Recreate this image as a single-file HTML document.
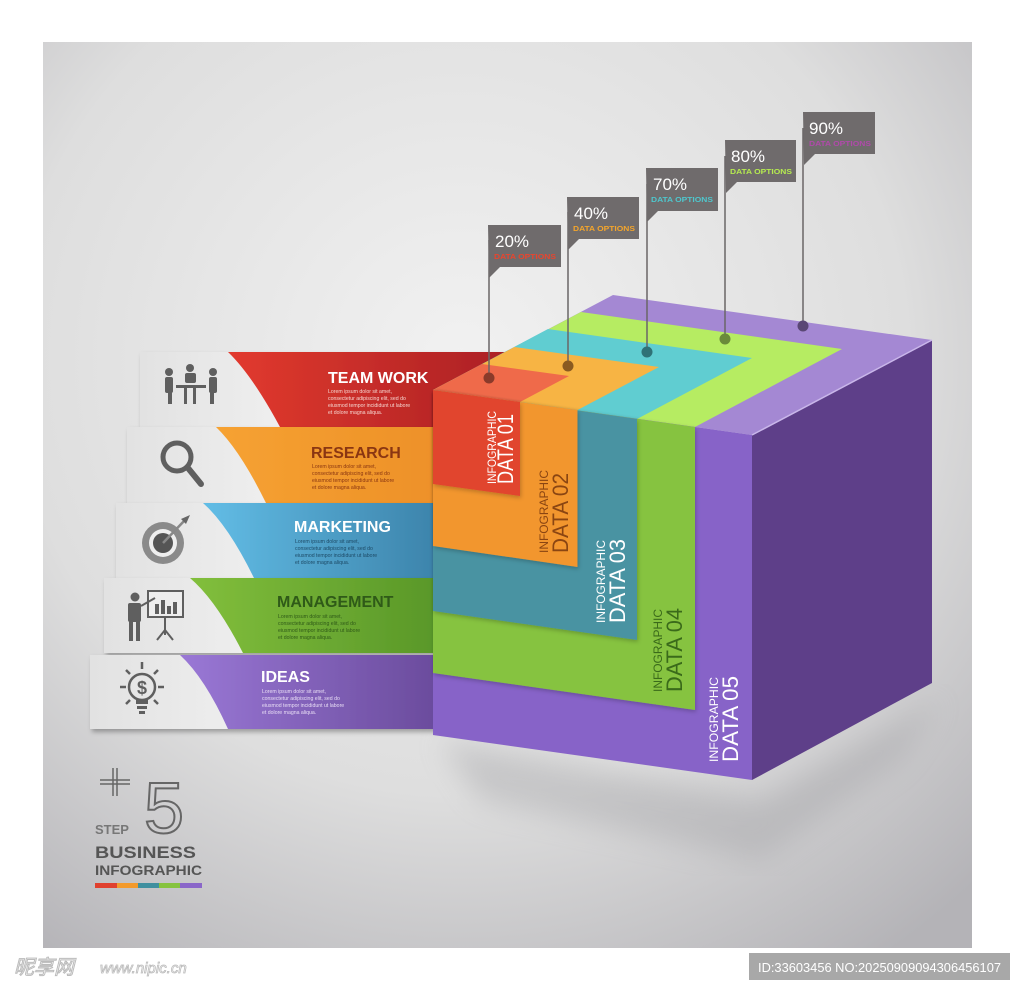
<!DOCTYPE html>
<html><head><meta charset="utf-8"><style>
html,body{margin:0;padding:0;background:#fff;width:1024px;height:992px;overflow:hidden}
svg{display:block}
text{font-family:"Liberation Sans",sans-serif}
</style></head><body>
<svg width="1024" height="992" viewBox="0 0 1024 992">
<defs>
<radialGradient id="bg" cx="0.45" cy="0.35" r="0.8">
<stop offset="0" stop-color="#f1f1f1"/><stop offset="0.6" stop-color="#dedede"/><stop offset="1" stop-color="#b4b3b7"/>
</radialGradient>
<linearGradient id="wb" x1="0" x2="1"><stop offset="0" stop-color="#e2e2e2"/><stop offset="0.6" stop-color="#f7f7f7"/><stop offset="1" stop-color="#ececec"/></linearGradient>
<linearGradient id="g1" x1="0" x2="1"><stop offset="0" stop-color="#e23a2e"/><stop offset="1" stop-color="#a91f24"/></linearGradient>
<linearGradient id="g2" x1="0" x2="1"><stop offset="0" stop-color="#f6a232"/><stop offset="1" stop-color="#ea8a25"/></linearGradient>
<linearGradient id="g3" x1="0" x2="1"><stop offset="0" stop-color="#62bde6"/><stop offset="1" stop-color="#2f6f96"/></linearGradient>
<linearGradient id="g4" x1="0" x2="1"><stop offset="0" stop-color="#82bf3c"/><stop offset="1" stop-color="#4b8a22"/></linearGradient>
<linearGradient id="g5" x1="0" x2="1"><stop offset="0" stop-color="#9a78d6"/><stop offset="1" stop-color="#5b3d8a"/></linearGradient>
<filter id="sh" x="-20%" y="-20%" width="140%" height="140%"><feDropShadow dx="2" dy="3" stdDeviation="2.5" flood-color="#000" flood-opacity="0.3"/></filter>
<filter id="sh2" x="-20%" y="-20%" width="140%" height="140%"><feDropShadow dx="1" dy="2" stdDeviation="2" flood-color="#000" flood-opacity="0.22"/></filter>
<filter id="bl"><feGaussianBlur stdDeviation="14"/></filter>
</defs>
<rect x="43" y="42" width="929" height="906" fill="url(#bg)"/>
<polygon points="440,740 760,800 940,700 900,760 760,860 480,800" fill="#9a9a9e" opacity="0.35" filter="url(#bl)"/>

<g filter="url(#sh)">
<rect x="140" y="352" width="380" height="75" fill="url(#wb)"/>
<path d="M228,352 L520,352 L520,427 L280,427 Q252,375 228,352Z" fill="url(#g1)"/>
</g>
<g filter="url(#sh)">
<rect x="127" y="427" width="393" height="76" fill="url(#wb)"/>
<path d="M216,427 L520,427 L520,503 L266,503 Q240,450 216,427Z" fill="url(#g2)"/>
</g>
<g filter="url(#sh)">
<rect x="116" y="503" width="404" height="75" fill="url(#wb)"/>
<path d="M203,503 L520,503 L520,578 L254,578 Q228,525 203,503Z" fill="url(#g3)"/>
</g>
<g filter="url(#sh)">
<rect x="104" y="578" width="416" height="75" fill="url(#wb)"/>
<path d="M190,578 L520,578 L520,653 L243,653 Q216,600 190,578Z" fill="url(#g4)"/>
</g>
<g filter="url(#sh)">
<rect x="90" y="655" width="430" height="74" fill="url(#wb)"/>
<path d="M180,655 L520,655 L520,729 L228,729 Q205,678 180,655Z" fill="url(#g5)"/>
</g>

<g font-weight="bold" font-size="16">
<text x="328" y="383" fill="#fff">TEAM WORK</text>
<text x="311" y="458" fill="#8a3612">RESEARCH</text>
<text x="294" y="532" fill="#fff">MARKETING</text>
<text x="277" y="607" fill="#2f5a18">MANAGEMENT</text>
<text x="261" y="682" fill="#fff">IDEAS</text>
</g>
<g font-size="5.2">
<g fill="#f6d6d0"><text x="328" y="393">Lorem ipsum dolor sit amet,</text><text x="328" y="400">consectetur adipiscing elit, sed do</text><text x="328" y="407">eiusmod tempor incididunt ut labore</text><text x="328" y="414">et dolore magna aliqua.</text></g>
<g fill="#8a3612"><text x="312" y="468">Lorem ipsum dolor sit amet,</text><text x="312" y="475">consectetur adipiscing elit, sed do</text><text x="312" y="482">eiusmod tempor incididunt ut labore</text><text x="312" y="489">et dolore magna aliqua.</text></g>
<g fill="#1d4a66"><text x="295" y="543">Lorem ipsum dolor sit amet,</text><text x="295" y="550">consectetur adipiscing elit, sed do</text><text x="295" y="557">eiusmod tempor incididunt ut labore</text><text x="295" y="564">et dolore magna aliqua.</text></g>
<g fill="#2f5a18"><text x="278" y="618">Lorem ipsum dolor sit amet,</text><text x="278" y="625">consectetur adipiscing elit, sed do</text><text x="278" y="632">eiusmod tempor incididunt ut labore</text><text x="278" y="639">et dolore magna aliqua.</text></g>
<g fill="#e8ddf5"><text x="262" y="693">Lorem ipsum dolor sit amet,</text><text x="262" y="700">consectetur adipiscing elit, sed do</text><text x="262" y="707">eiusmod tempor incididunt ut labore</text><text x="262" y="714">et dolore magna aliqua.</text></g>
</g>

<g fill="#5f5f5f" stroke="none">
<circle cx="169" cy="372" r="4"/><rect x="165" y="377" width="8" height="16" rx="2"/><rect x="168" y="392" width="4" height="12"/>
<circle cx="190" cy="368" r="4"/><rect x="185" y="373" width="11" height="10" rx="2"/>
<circle cx="213" cy="372" r="4"/><rect x="209" y="377" width="8" height="16" rx="2"/><rect x="210" y="392" width="4" height="12"/>
<rect x="176" y="385" width="30" height="3"/><rect x="184" y="388" width="3" height="16"/><rect x="193" y="388" width="3" height="16"/>
<circle cx="177" cy="457" r="14" fill="none" stroke="#5f5f5f" stroke-width="5"/>
<line x1="188" y1="468" x2="201" y2="484" stroke="#5f5f5f" stroke-width="6" stroke-linecap="round"/>
<circle cx="163" cy="543" r="21" fill="#8a8a8a"/><circle cx="163" cy="543" r="14" fill="#eee"/><circle cx="163" cy="543" r="10" fill="#555"/>
<line x1="163" y1="543" x2="185" y2="520" stroke="#888" stroke-width="2.5"/><polygon points="181,519 190,515 186,524" fill="#666"/>
<circle cx="135" cy="597" r="4.5"/><rect x="128" y="603" width="13" height="19" rx="2"/><rect x="129" y="621" width="4" height="20"/><rect x="136" y="621" width="4" height="20"/>
<rect x="148" y="591" width="35" height="26" fill="#eee" stroke="#5f5f5f" stroke-width="2"/>
<rect x="155" y="604" width="4" height="10"/><rect x="161" y="600" width="4" height="14"/><rect x="167" y="606" width="4" height="8"/><rect x="173" y="602" width="4" height="12"/>
<line x1="165" y1="617" x2="165" y2="635" stroke="#5f5f5f" stroke-width="2"/><line x1="165" y1="630" x2="157" y2="640" stroke="#5f5f5f" stroke-width="2"/><line x1="165" y1="630" x2="173" y2="640" stroke="#5f5f5f" stroke-width="2"/>
<line x1="141" y1="606" x2="155" y2="598" stroke="#5f5f5f" stroke-width="2"/>
<circle cx="142" cy="687" r="13" fill="none" stroke="#5f5f5f" stroke-width="2.5"/>
<rect x="136" y="700" width="12" height="4"/><rect x="137" y="706" width="10" height="3"/><rect x="139" y="711" width="6" height="3"/>
<text x="142" y="694" font-size="18" font-weight="bold" fill="#5f5f5f" text-anchor="middle">$</text>
<g stroke="#5f5f5f" stroke-width="2.5"><line x1="142" y1="662" x2="142" y2="669"/><line x1="120" y1="687" x2="126" y2="687"/><line x1="158" y1="687" x2="164" y2="687"/><line x1="126" y1="670" x2="130" y2="674"/><line x1="158" y1="670" x2="154" y2="674"/><line x1="126" y1="704" x2="130" y2="700"/><line x1="158" y1="704" x2="154" y2="700"/></g>
</g>

<polygon points="752,435 932,340 932,683 752,780" fill="#5e3f89"/>
<polygon points="433,390 752,435 932,340 613,295" fill="#a488d3"/>
<polygon points="433,390 695,427 842,349 581,312" fill="#b6ec62"/>
<polygon points="433,390 637,419 752,358 548,329" fill="#60cdd1"/>
<polygon points="433,390 577.5,410 659,367 514.5,347" fill="#f7b444"/>
<polygon points="433,390 520,402 569,376 482,364" fill="#ef6a4a"/>
<polygon points="433,390 752,435 752,780 433,735" fill="#8763c8"/>
<g filter="url(#sh2)"><polygon points="433,390 695,427 695,710 433,673" fill="#86c33f"/></g>
<g filter="url(#sh2)"><polygon points="433,390 637,419 637,640 433,611" fill="#4893a2"/></g>
<g filter="url(#sh2)"><polygon points="433,390 577.5,410 577.5,567 433,546" fill="#f2962e"/></g>
<g filter="url(#sh2)"><polygon points="433,390 520,402 520,496 433,484" fill="#e1452f"/></g>
<line x1="752" y1="435" x2="932" y2="340" stroke="#c9b6ea" stroke-width="1.5"/>

<g>
<text transform="translate(496,484) rotate(-90)" font-size="12" fill="#fff" textLength="73" lengthAdjust="spacingAndGlyphs">INFOGRAPHIC</text>
<text transform="translate(513,484) rotate(-90)" font-size="22" fill="#fff" textLength="70" lengthAdjust="spacingAndGlyphs">DATA 01</text>
<text transform="translate(548,553) rotate(-90)" font-size="12" fill="#8a4512" textLength="83" lengthAdjust="spacingAndGlyphs">INFOGRAPHIC</text>
<text transform="translate(568,553) rotate(-90)" font-size="22" fill="#8a4512" textLength="80" lengthAdjust="spacingAndGlyphs">DATA 02</text>
<text transform="translate(605,623) rotate(-90)" font-size="12" fill="#fff" textLength="83" lengthAdjust="spacingAndGlyphs">INFOGRAPHIC</text>
<text transform="translate(625,623) rotate(-90)" font-size="22" fill="#fff" textLength="84" lengthAdjust="spacingAndGlyphs">DATA 03</text>
<text transform="translate(662,692) rotate(-90)" font-size="12" fill="#3a6a1a" textLength="83" lengthAdjust="spacingAndGlyphs">INFOGRAPHIC</text>
<text transform="translate(682,692) rotate(-90)" font-size="22" fill="#3a6a1a" textLength="84" lengthAdjust="spacingAndGlyphs">DATA 04</text>
<text transform="translate(718,762) rotate(-90)" font-size="12" fill="#fff" textLength="85" lengthAdjust="spacingAndGlyphs">INFOGRAPHIC</text>
<text transform="translate(738,762) rotate(-90)" font-size="22" fill="#fff" textLength="86" lengthAdjust="spacingAndGlyphs">DATA 05</text>
</g>

<g stroke="#6a6667" stroke-width="1.5">
<line x1="489" y1="240" x2="489" y2="379"/>
<line x1="568" y1="212" x2="568" y2="366"/>
<line x1="647" y1="184" x2="647" y2="352"/>
<line x1="725" y1="156" x2="725" y2="339"/>
<line x1="803" y1="128" x2="803" y2="326"/>
</g>
<circle cx="489" cy="378" r="5.5" fill="#8a3a2a"/>
<circle cx="568" cy="366" r="5.5" fill="#8a5a20"/>
<circle cx="647" cy="352" r="5.5" fill="#2f7277"/>
<circle cx="725" cy="339" r="5.5" fill="#6a8a3a"/>
<circle cx="803" cy="326" r="5.5" fill="#5a4775"/>
<g fill="#6f6b6c">
<path d="M488,225 H561 V267 H500 L489,278 Z"/>
<path d="M567,197 H639 V239 H579 L568,250 Z"/>
<path d="M646,168 H718 V211 H658 L647,222 Z"/>
<path d="M725,140 H796 V182 H737 L726,193 Z"/>
<path d="M803,112 H875 V154 H815 L804,165 Z"/>
</g>
<g font-size="17" fill="#fff">
<text x="495" y="247">20%</text><text x="574" y="219">40%</text><text x="653" y="190">70%</text><text x="731" y="162">80%</text><text x="809" y="134">90%</text>
</g>
<g font-size="7.5" font-weight="bold">
<text x="494" y="259" fill="#e8452e" textLength="62" lengthAdjust="spacingAndGlyphs">DATA OPTIONS</text>
<text x="573" y="231" fill="#f3a52c" textLength="62" lengthAdjust="spacingAndGlyphs">DATA OPTIONS</text>
<text x="651" y="202" fill="#4fc6cc" textLength="62" lengthAdjust="spacingAndGlyphs">DATA OPTIONS</text>
<text x="730" y="174" fill="#b5ea50" textLength="62" lengthAdjust="spacingAndGlyphs">DATA OPTIONS</text>
<text x="809" y="146" fill="#b04aaa" textLength="62" lengthAdjust="spacingAndGlyphs">DATA OPTIONS</text>
</g>

<g fill="none" stroke="#666" stroke-width="1.5">
<path d="M100,780 H130 M100,784 H130 M113,768 V796 M117,768 V796"/>
</g>
<text x="144" y="833" font-size="72" fill="none" stroke="#666" stroke-width="2">5</text>
<text x="95" y="834" font-size="13" font-weight="bold" fill="#777">STEP</text>
<text x="95" y="858" font-size="17" font-weight="bold" fill="#555" textLength="101" lengthAdjust="spacingAndGlyphs">BUSINESS</text>
<text x="95" y="875" font-size="14" font-weight="bold" fill="#555" textLength="107" lengthAdjust="spacingAndGlyphs">INFOGRAPHIC</text>
<rect x="95" y="883" width="22" height="5" fill="#e0402e"/><rect x="117" y="883" width="21" height="5" fill="#f39a2c"/><rect x="138" y="883" width="21" height="5" fill="#3f8f9f"/><rect x="159" y="883" width="21" height="5" fill="#86c33f"/><rect x="180" y="883" width="22" height="5" fill="#8a66c9"/>

<text x="14" y="974" font-size="20" fill="#fff" stroke="#bbb" stroke-width="1" font-family="'Liberation Sans','Noto Sans CJK SC',sans-serif" font-style="italic">昵享网</text>
<text x="100" y="973" font-size="15" fill="#fff" stroke="#bbb" stroke-width="0.8" font-style="italic">www.nipic.cn</text>
<rect x="749" y="953" width="261" height="27" fill="#a8a8a8"/>
<text x="758" y="972" font-size="13" fill="#fff" textLength="243" lengthAdjust="spacingAndGlyphs">ID:33603456 NO:20250909094306456107</text>
</svg>
</body></html>
